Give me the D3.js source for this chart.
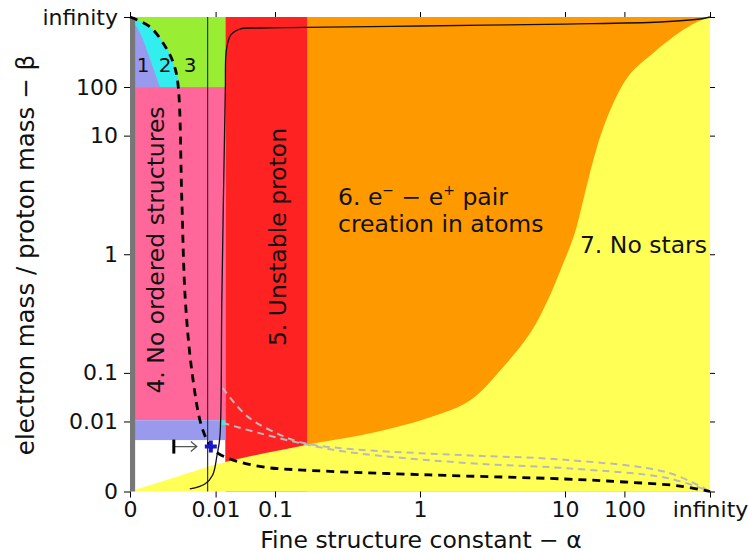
<!DOCTYPE html>
<html>

<head>
  <meta charset="UTF-8">
  <title>Fine structure constant vs mass ratio</title>
  <style>
    body { margin: 0; background: #fff; }
    svg text { font-family: "DejaVu Sans", sans-serif; fill: #111; }
  </style>
</head>

<body>
  <svg id="chart" width="748" height="553"></svg>
  <script src="https://d3js.org/d3.v7.min.js"></script>
  <script>
    /// data (alpha = fine structure constant, beta = electron / proton mass)

    var tickValues = [0, 0.01, 0.1, 1, 10, 100, Infinity];
    var tickLabels = ["0", "0.01", "0.1", "1", "10", "100", "infinity"];

    // boxes: [[alpha from, alpha to], [beta from, beta to]]
    var orangeBox = [[0.2, Infinity], [0, Infinity]];
    var redBox = [[0.0173, 0.2], [0, Infinity]];
    var pinkBox = [[0, 0.0173], [0.011, 100]];
    var blueBand = [[0, 0.0173], [0.0015, 0.011]];
    var cyanChip = [[0.0129, 0.0173], [0.0074, 0.011]];
    var greenBox = [[0, 0.0173], [100, Infinity]];
    var grayStrip = [[0, 1e-36], [0, Infinity]];

    // curves: [alpha, beta]
    var region1Edge = [[0, Infinity], [6e-19, 2.7e9], [7e-10, 3.1e3], [7.8e-7, 100]];
    var region2Edge = [[0, Infinity], [7e-10, 1.3e15], [1.6e-5, 3.5e4], [9e-5, 790], [2.9e-4, 100]];
    var noStarsEdge = [[0, 0], [1.6e-4, 1e-10], [0.0173, 8.7e-6], [0.19, 6.8e-4], [0.53, 3.4e-3],
      [1.18, 0.0144], [1.9, 0.0354], [3.04, 0.118], [4.78, 0.266], [6.76, 0.487], [9.24, 0.823],
      [13, 1.39], [16.6, 2.37], [21.8, 4.5], [31.5, 10.8], [58, 43], [140, 310], [1726, 1.9e4],
      [1.3e6, 1e10], [1.6e14, 1.6e30], [Infinity, Infinity]];
    var grayDashA = [[0.015, 0.06], [0.044, 0.0144], [0.113, 2.9e-3], [0.19, 9.5e-4], [0.4, 3.5e-4],
      [1.82, 8e-5], [10, 2e-5], [1.8e4, 1.3e-8], [Infinity, 0]];
    var grayDashB = [[0.015, 9e-3], [0.067, 3.4e-3], [0.19, 8.3e-4], [0.4, 1.7e-4], [1.82, 5.6e-6],
      [10, 3.9e-7], [1.8e4, 6e-12], [Infinity, 0]];
    var solidCurve = [[1.05e-3, 1e-60], [4.7e-3, 1e-20], [8.3e-3, 8.5e-10], [0.0109, 8e-5],
      [0.0129, 2.2e-3], [0.0144, 0.487], [0.0173, 78], [0.0183, 3.5e4], [0.0226, 2.3e8],
      [0.0333, 3.5e12], [0.0669, 5e13], [0.19, 2.5e14], [1, 6e16], [10, 3e21], [4000, 1.6e30],
      [1.6e18, 6e75], [Infinity, Infinity]];
    var dashedBlack = [[0, Infinity], [7e-10, 1.3e15], [1.26e-5, 3.5e4], [9e-5, 790], [1.86e-4, 93],
      [3.4e-4, 2.37], [5.8e-4, 0.487], [1.38e-3, 0.1], [3.6e-3, 6.5e-3], [0.0073, 5.45e-4],
      [0.0116, 1.35e-4], [0.0244, 2e-5], [0.0723, 7.8e-7], [0.184, 1e-7], [1.13, 8.5e-10],
      [10, 9e-13], [100, 1.3e-16], [1.3e6, 2.5e-28], [Infinity, 0]];
    var fineLineAlpha = 0.0058;
    var ourUniverse = [1 / 137, 1 / 1836];

    /// scales: 0..infinity squashed to -1..1 via atan(log10)

    function squash(v) { return 2 / Math.PI * Math.atan(Math.log10(v)); }

    var x = d3.scaleLinear().domain([-1, 1]).range([130, 710]);
    var y = d3.scaleLinear().domain([-1, 1]).range([491.5, 17]);
    function px(a) { return x(squash(a)); }
    function py(b) { return y(squash(b)); }

    var svg = d3.select("#chart");

    function box(b, color) {
      svg.append("rect")
        .attr("x", px(b[0][0]))
        .attr("width", px(b[0][1]) - px(b[0][0]))
        .attr("y", py(b[1][1]))
        .attr("height", py(b[1][0]) - py(b[1][1]))
        .attr("fill", color);
    }

    box(orangeBox, "#ff9900");
    box(redBox, "#ff2222");
    box(pinkBox, "#ff6699");
    box(blueBand, "#9999ee");
    box(cyanChip, "#33eeee");
    box(greenBox, "#99ee33");

    // region 2 (cyan) then region 1 (lavender), both above beta = 100
    var topArea = d3.area()
      .x(function(d) { return px(d[0]); })
      .y0(py(100))
      .y1(function(d) { return py(d[1]); })
      .curve(d3.curveCatmullRom);
    svg.append("path").attr("d", topArea(region2Edge)).attr("fill", "#33eeee");
    svg.append("path").attr("d", topArea(region1Edge)).attr("fill", "#9999ee");

    // no stars (yellow) below the edge
    var lowArea = d3.area()
      .x(function(d) { return px(d[0]); })
      .y0(py(0))
      .y1(function(d) { return py(d[1]); })
      .curve(d3.curveCatmullRom);
    svg.append("path").attr("d", lowArea(noStarsEdge)).attr("fill", "#ffff55");

    box(grayStrip, "#777777");

    var line = d3.line()
      .x(function(d) { return px(d[0]); })
      .y(function(d) { return py(d[1]); })
      .curve(d3.curveCatmullRom);

    [grayDashA, grayDashB].forEach(function(c) {
      svg.append("path").attr("d", line(c))
        .attr("fill", "none")
        .attr("stroke", "#bababa")
        .attr("stroke-width", 2)
        .attr("stroke-dasharray", "7,5");
    });

    svg.append("line")
      .attr("x1", px(fineLineAlpha)).attr("x2", px(fineLineAlpha))
      .attr("y1", py(0)).attr("y2", py(Infinity))
      .attr("stroke", "#333").attr("stroke-width", 1.2);

    svg.append("path").attr("d", line(solidCurve))
      .attr("fill", "none").attr("stroke", "#111").attr("stroke-width", 1.3);

    svg.append("path").attr("d", line(dashedBlack))
      .attr("fill", "none").attr("stroke", "#000")
      .attr("stroke-width", 2.8).attr("stroke-dasharray", "8,6");

    // our universe marker and the maps-to arrow
    var ux = px(ourUniverse[0]), uy = py(ourUniverse[1]);
    svg.append("path")
      .attr("d", "M" + (ux - 6) + "," + uy + "h12M" + ux + "," + (uy - 6) + "v12")
      .attr("stroke", "#1818cc").attr("stroke-width", 4);
    svg.append("path")
      .attr("d", "M" + (ux - 36) + "," + uy + "H" + (ux - 14) +
        "M" + (ux - 20) + "," + (uy - 5) + "L" + (ux - 14) + "," + uy + "L" + (ux - 20) + "," + (uy + 5))
      .attr("fill", "none").attr("stroke", "#555").attr("stroke-width", 1.3);
    svg.append("line")
      .attr("x1", ux - 37).attr("x2", ux - 37)
      .attr("y1", uy - 7).attr("y2", uy + 7)
      .attr("stroke", "#000").attr("stroke-width", 3);

    /// labels

    [["1", 143], ["2", 165], ["3", 190]].forEach(function(l) {
      svg.append("text").attr("x", l[1]).attr("y", 72)
        .attr("text-anchor", "middle").attr("font-size", 20).text(l[0]);
    });

    svg.append("text")
      .attr("transform", "translate(164,250) rotate(-90)")
      .attr("text-anchor", "middle").attr("font-size", 23.5)
      .text("4. No ordered structures");

    svg.append("text")
      .attr("transform", "translate(286,237) rotate(-90)")
      .attr("text-anchor", "middle").attr("font-size", 23.5)
      .text("5. Unstable proton");

    var t6 = svg.append("text").attr("x", 338).attr("y", 205).attr("font-size", 23.5);
    t6.append("tspan").text("6. e");
    t6.append("tspan").attr("dy", -10).attr("font-size", 14).text("\u2212");
    t6.append("tspan").attr("dy", 10).text(" \u2212 e");
    t6.append("tspan").attr("dy", -10).attr("font-size", 14).text("+");
    t6.append("tspan").attr("dy", 10).text(" pair");
    svg.append("text").attr("x", 338).attr("y", 232).attr("font-size", 23.5)
      .text("creation in atoms");

    svg.append("text").attr("x", 707).attr("y", 253)
      .attr("text-anchor", "end").attr("font-size", 23.5)
      .text("7. No stars");

    /// axes

    function fmt(d, i) { return tickLabels[i]; }

    var gx = svg.append("g").attr("transform", "translate(0," + py(0) + ")")
      .call(d3.axisBottom(x).tickValues(tickValues.map(squash)).tickFormat(fmt).tickSize(6).tickPadding(4));
    var gy = svg.append("g").attr("transform", "translate(" + px(0) + ",0)")
      .call(d3.axisLeft(y).tickValues(tickValues.map(squash)).tickFormat(fmt).tickSize(6).tickPadding(6));
    var gt = svg.append("g").attr("transform", "translate(0," + py(Infinity) + ")")
      .call(d3.axisTop(x).tickValues(tickValues.map(squash)).tickFormat("").tickSize(5));
    var gr = svg.append("g").attr("transform", "translate(" + px(Infinity) + ",0)")
      .call(d3.axisRight(y).tickValues(tickValues.map(squash)).tickFormat("").tickSize(5));

    [gx, gy, gt, gr].forEach(function(g) {
      g.select(".domain").remove();
      g.selectAll("text").attr("font-size", 22).attr("font-family", "DejaVu Sans, sans-serif").attr("fill", "#111");
    });

    svg.append("text")
      .attr("x", 421).attr("y", 548)
      .attr("text-anchor", "middle").attr("font-size", 23.5)
      .text("Fine structure constant \u2212 \u03b1");

    svg.append("text")
      .attr("transform", "translate(34,255) rotate(-90)")
      .attr("text-anchor", "middle").attr("font-size", 24.5)
      .text("electron mass / proton mass \u2212 \u03b2");
  </script>
</body>
</html>
